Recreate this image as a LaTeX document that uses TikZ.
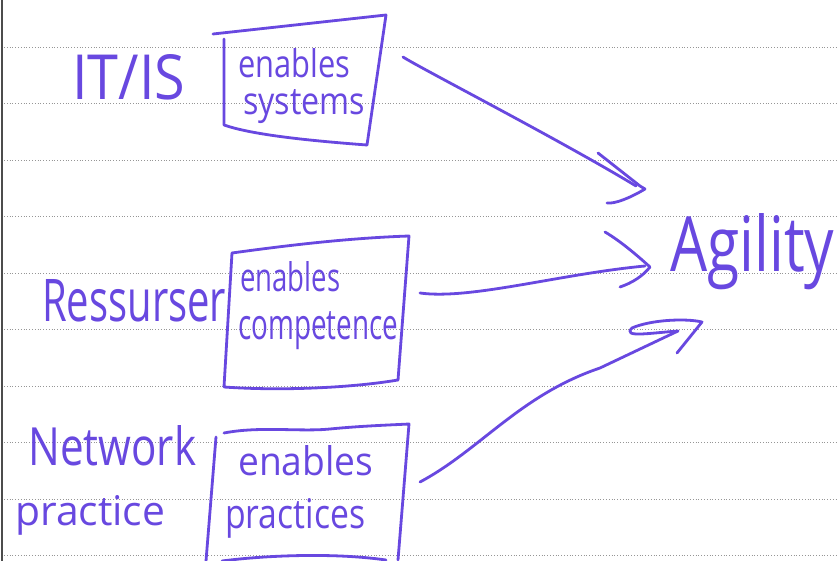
\documentclass[tikz,border=0pt]{standalone}
\usepackage{fontspec}
\setmainfont{Open Sans}
\usepackage{graphicx}
\definecolor{ink}{RGB}{104,72,224}
\definecolor{rule}{RGB}{150,150,150}
\newcommand{\hw}[3]{\resizebox{#1pt}{#2pt}{#3}}
\tikzset{
  hand/.style={text=ink, inner sep=0pt, anchor=base west},
  pen/.style={draw=ink, line width=2.8pt, line cap=round, line join=round},
  paperline/.style={draw=rule, line width=0.8pt, dotted},
}
\begin{document}
\begin{tikzpicture}[x=1pt,y=-1pt]
\useasboundingbox (0,0) rectangle (838,561);
\fill[white] (0,0) rectangle (838,561);
% ruled paper
\foreach \k in {0,...,9} {
  \draw[paperline] (4,47+56.5*\k) -- (838,47+56.5*\k);
}
\draw[draw=black!70, line width=2pt] (2,0) -- (2,561);

% boxes
\draw[pen] (213,34) -- (386,15) -- (367,145);
\draw[pen] (224,39) -- (224,125) .. controls (250,134) and (300,140) .. (367,145);
\draw[pen] (232,253) .. controls (290,245) and (350,238) .. (409,236) -- (398,380);
\draw[pen] (232,253) -- (224,387) .. controls (280,391) and (350,388) .. (398,380);
\draw[pen] (224,433) .. controls (260,426) and (300,432) .. (330,429) .. controls (360,426) and (390,425) .. (409,424) -- (398,560);
\draw[pen] (216,437) -- (206,561);
\draw[pen] (222,561) .. controls (260,556) and (330,552) .. (386,560);

% texts
\node[hand] (itis) at (72,100) {\hw{113}{45}{IT/IS}};
\node[hand] (en1) at (238,78) {\hw{112}{29}{enables}};
\node[hand] (sys) at (243,115) {\hw{122}{25}{systems}};
\node[hand] (res) at (42,322) {\hw{184}{42}{Ressurser}};
\node[hand] (en2) at (240,292) {\hw{100}{30}{enables}};
\node[hand] (comp) at (238,340) {\hw{160}{28}{competence}};
\node[hand] (net) at (28,465) {\hw{168}{40}{Network}};
\node[hand] (prac) at (15,525) {\hw{150}{30}{practice}};
\node[hand] (en3) at (238,475) {\hw{135}{30}{enables}};
\node[hand] (pracs) at (225,528) {\hw{140}{30}{practices}};
\node[hand] (agil) at (670,272) {\hw{164}{58}{Agility}};

% arrow end points
\coordinate (a1s) at (403,57);
\coordinate (a1t) at (645,189);
\coordinate (a2s) at (420,293);
\coordinate (a2t) at (650,267);
\coordinate (a3s) at (420,482);
\coordinate (a3t) at (702,322);

% arrow 1
\draw[pen] (a1s) .. controls (420,68) and (560,140) .. (636,186);
\draw[pen] (598,153) -- (640,186) -- (a1t);
\draw[pen] (a1t) .. controls (630,198) and (615,204) .. (607,203);
% arrow 2
\draw[pen] (a2s) .. controls (470,300) and (560,274) .. (645,266);
\draw[pen] (605,232) .. controls (622,242) and (640,258) .. (a2t) .. controls (643,276) and (632,283) .. (620,287);
% arrow 3
\draw[pen] (a3s) .. controls (480,450) and (520,395) .. (600,368) -- (678,331);
\draw[pen] (678,331) .. controls (650,333) and (622,338) .. (632,328) .. controls (650,320) and (685,318) .. (a3t) -- (677,353);
\end{tikzpicture}
\end{document}
